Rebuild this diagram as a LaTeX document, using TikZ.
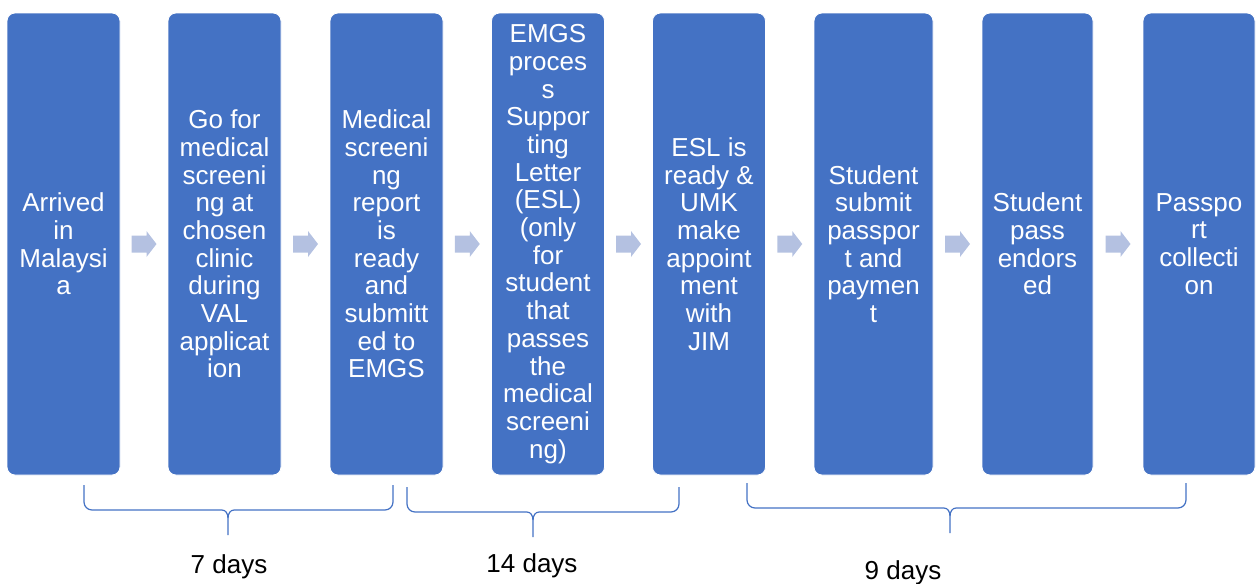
\documentclass[tikz,border=0pt]{standalone}
\usepackage{fontspec}
\setmainfont{Liberation Sans}
\usetikzlibrary{calc}

\definecolor{stageblue}{HTML}{4472C4}
\definecolor{arrowblue}{HTML}{B4C1E1}

\tikzset{
    stagebox/.style={fill=stageblue, draw=white, line width=0.4pt, rounded corners=4pt,
        text=white, align=center, inner sep=0pt, minimum width=56.5pt, minimum height=231pt,
        font=\fontsize{13pt}{13.85pt}\selectfont},
    nextarrow/.style={fill=arrowblue, draw=none},
    bracket/.style={draw=stageblue, line width=0.6pt},
    dayslabel/.style={font=\fontsize{13pt}{13.85pt}\selectfont, anchor=base, inner sep=0pt}
}

% brace under the boxes: left x, tip x, right x, top y
\newcommand{\daysbrace}[4]{%
    \draw[bracket] (#1,#4) -- ({#1},{#4+17}) to[out=-90,in=180] ({#1+8},{#4+25})
        -- ({#2-6},{#4+25}) to[out=0,in=90] ({#2},{#4+33}) -- ({#2},{#4+50});
    \draw[bracket] (#3,#4) -- ({#3},{#4+17}) to[out=-90,in=0] ({#3-8},{#4+25})
        -- ({#2+6},{#4+25}) to[out=180,in=90] ({#2},{#4+33});
}

\begin{document}
\begin{tikzpicture}[x=0.5pt, y=-0.5pt]
    \useasboundingbox (0,0) rectangle (1260,584);

    % Stages
    \node[stagebox] (s1) at (63.5,244) {Arrived\\in\\Malaysi\\a};
    \node[stagebox] (s2) at (224.5,244) {Go for\\medical\\screeni\\ng at\\chosen\\clinic\\during\\VAL\\applicat\\ion};
    \node[stagebox] (s3) at (386.5,244) {Medical\\screeni\\ng\\report\\is\\ready\\and\\submitt\\ed to\\EMGS};
    \node[stagebox] (s4) at (548,244) {EMGS\\proces\\s\\Suppor\\ting\\Letter\\(ESL)\\(only\\for\\student\\that\\passes\\the\\medical\\screeni\\ng)};
    \node[stagebox] (s5) at (709,244) {ESL is\\ready \&\\UMK\\make\\appoint\\ment\\with\\JIM};
    \node[stagebox, minimum width=59.5pt] (s6) at (873.5,244) {Student\\submit\\passpor\\t and\\paymen\\t};
    \node[stagebox, minimum width=55.5pt] (s7) at (1037.5,244) {Student\\pass\\endors\\ed};
    \node[stagebox, minimum width=56pt] (s8) at (1199,244) {Passpo\\rt\\collecti\\on};

    % Arrows
    \foreach \a/\b in {1/2,2/3,3/4,4/5,5/6,6/7,7/8} {
        \coordinate (a\a) at ($(s\a.east)!0.5!(s\b.west)$);
        \fill[nextarrow] ($(a\a)+(-12.5,-8.5)$) -- ($(a\a)+(2.5,-8.5)$) -- ($(a\a)+(2.5,-13)$)
            -- ($(a\a)+(12.5,0)$) -- ($(a\a)+(2.5,13)$) -- ($(a\a)+(2.5,8.5)$)
            -- ($(a\a)+(-12.5,8.5)$) -- cycle;
    }

    % Braces
    \daysbrace{84}{228}{393}{485}
    \daysbrace{407}{533}{679}{487}
    \daysbrace{747}{950}{1186}{483}

    % Durations
    \node[dayslabel] (d1) at (229,573) {7 days};
    \node[dayslabel] (d2) at (532,572) {14 days};
    \node[dayslabel] (d3) at (903,579) {9 days};
\end{tikzpicture}
\end{document}
